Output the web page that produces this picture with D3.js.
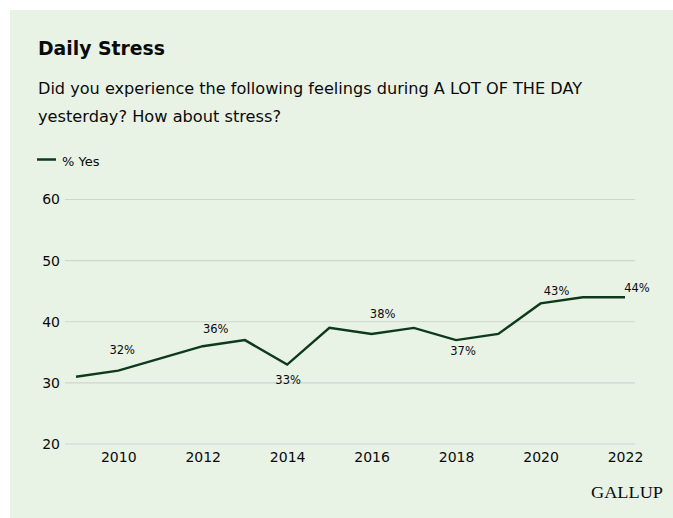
<!DOCTYPE html>
<html>
<head>
<meta charset="utf-8">
<script src="https://cdn.jsdelivr.net/npm/d3@7"></script>
<style>
  body { margin: 0; background: #fff; }
  svg { display: block; }
  text { font-family: "DejaVu Sans", sans-serif; fill: #0a0a0a; }
</style>
</head>
<body>
<div class="chart"></div>
<script>
// Values
var years = [2009, 2010, 2011, 2012, 2013, 2014, 2015, 2016, 2017, 2018, 2019, 2020, 2021, 2022];
var stress = [31, 32, 34, 36, 37, 33, 39, 38, 39, 37, 38, 43, 44, 44];
var yTicks = [20, 30, 40, 50, 60];
var xTicks = [2010, 2012, 2014, 2016, 2018, 2020, 2022];
// which points carry a label
var labelYears = [2010, 2012, 2014, 2016, 2018, 2020, 2022];

var width = 673, height = 518;
var svg = d3.select(".chart").append("svg")
    .attr("width", width)
    .attr("height", height);

// panel background
svg.append("rect")
    .attr("x", 10).attr("y", 10)
    .attr("width", width - 10).attr("height", height - 10)
    .attr("fill", "#e8f3e6");

// headings
svg.append("text")
    .attr("x", 38).attr("y", 55)
    .style("font-size", "19px").style("font-weight", "bold")
    .attr("textLength", 127).attr("lengthAdjust", "spacingAndGlyphs")
    .text("Daily Stress");
svg.append("text")
    .attr("x", 38).attr("y", 94)
    .style("font-size", "16px")
    .attr("textLength", 544).attr("lengthAdjust", "spacingAndGlyphs")
    .text("Did you experience the following feelings during A LOT OF THE DAY");
svg.append("text")
    .attr("x", 38).attr("y", 122)
    .style("font-size", "16px")
    .attr("textLength", 243).attr("lengthAdjust", "spacingAndGlyphs")
    .text("yesterday? How about stress?");

// legend
svg.append("line")
    .attr("x1", 37).attr("x2", 56).attr("y1", 159.5).attr("y2", 159.5)
    .attr("stroke", "#0f3b1c").attr("stroke-width", 2.5);
svg.append("text")
    .attr("x", 62).attr("y", 165.5)
    .style("font-size", "13px")
    .text("% Yes");

// scales
var x = d3.scaleLinear().domain([2009, 2022]).range([76, 625]);
var y = d3.scaleLinear().domain([20, 60]).range([444, 199.5]);

// gridlines
svg.append("g").selectAll("line")
    .data(yTicks)
    .enter().append("line")
    .attr("x1", 65).attr("x2", 635)
    .attr("y1", d => y(d)).attr("y2", d => y(d))
    .attr("stroke", "#cdd6ca").attr("stroke-width", 1.2);

// y axis labels
var yAxis = d3.axisLeft(y).tickValues(yTicks).tickSize(0).tickPadding(0);
svg.append("g")
    .attr("transform", "translate(60,0)")
    .call(yAxis)
    .call(g => g.select(".domain").remove())
    .selectAll("text")
    .style("font-size", "14px").attr("fill", "#1a1a1a")
    .style("font-family", "'DejaVu Sans', sans-serif");

// x axis labels
var xAxis = d3.axisBottom(x).tickValues(xTicks).tickFormat(d3.format("d")).tickSize(0).tickPadding(0);
svg.append("g")
    .attr("transform", "translate(0,452)")
    .call(xAxis)
    .call(g => g.select(".domain").remove())
    .selectAll("text")
    .style("font-size", "14px").attr("fill", "#1a1a1a")
    .style("font-family", "'DejaVu Sans', sans-serif");

// the line
var line = d3.line()
    .x((d, i) => x(years[i]))
    .y(d => y(d));
svg.append("path")
    .datum(stress)
    .attr("d", line)
    .attr("fill", "none")
    .attr("stroke", "#0d3a1b")
    .attr("stroke-width", 2.4)
    .attr("stroke-linejoin", "miter");

// data labels, nudged off the line the way the original places them
var nudge = [[4, -17], [13, -13], [1, 19], [11, -16], [7, 15], [16, -8], [12, -5]];
svg.append("g").selectAll("text")
    .data(labelYears)
    .enter().append("text")
    .attr("x", (d, i) => x(d) + nudge[i][0])
    .attr("y", (d, i) => y(stress[years.indexOf(d)]) + nudge[i][1])
    .attr("text-anchor", "middle")
    .style("font-size", "11.5px")
    .text(d => stress[years.indexOf(d)] + "%");

// logo
svg.append("text")
    .attr("x", 591).attr("y", 498)
    .style("font-family", "'Liberation Serif', 'Times New Roman', serif")
    .style("font-size", "17px")
    .attr("textLength", 72).attr("lengthAdjust", "spacingAndGlyphs")
    .text("GALLUP");
</script>
</body>
</html>
